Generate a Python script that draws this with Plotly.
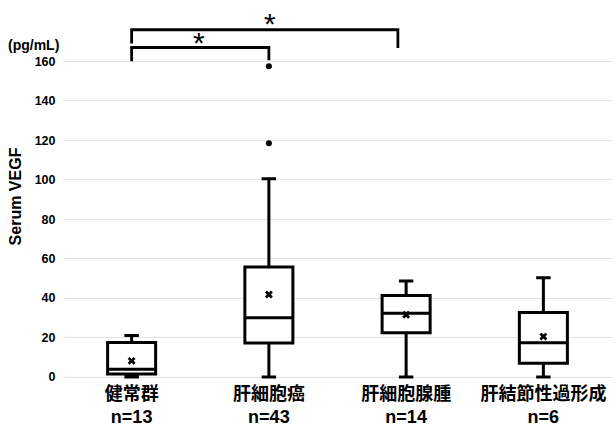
import plotly.graph_objects as go

categories = ["健常群", "肝細胞癌", "肝細胞腺腫", "肝結節性過形成"]
n_counts = [13, 43, 14, 6]
lower_whisker = [0, 0, 0, 0]
q1_vals = [1.5, 17.3, 22.5, 7.0]
median_vals = [4.0, 30.0, 32.3, 17.4]
q3_vals = [17.5, 55.8, 41.3, 32.7]
upper_whisker = [21.0, 100.5, 48.7, 50.3]
mean_vals = [8.2, 41.8, 31.6, 20.5]
outlier_x = [1, 1]
outlier_y = [157.5, 118.5]
ytick_vals = [0, 20, 40, 60, 80, 100, 120, 140, 160]

FONT = "Liberation Sans, Arial, Noto Sans CJK JP, sans-serif"
xpos = list(range(len(categories)))
ticktext = [f"<b>{c}<br>n={n}</b>" for c, n in zip(categories, n_counts)]

fig = go.Figure()
fig.add_trace(go.Box(
    x=xpos, q1=q1_vals, median=median_vals, q3=q3_vals,
    lowerfence=lower_whisker, upperfence=upper_whisker,
    fillcolor="white", line=dict(color="black", width=3),
    whiskerwidth=0.3, boxpoints=False, showlegend=False, hoverinfo="skip",
))
fig.add_trace(go.Scatter(
    x=xpos, y=mean_vals, mode="markers",
    marker=dict(symbol="x", size=7, color="black", line=dict(width=0)),
    showlegend=False,
))
fig.add_trace(go.Scatter(
    x=outlier_x, y=outlier_y, mode="markers",
    marker=dict(symbol="circle", size=6, color="black"),
    showlegend=False,
))

lw = 2.8
# bracket 1: group 0 vs group 1
fig.add_shape(type="path", xref="x", yref="y",
              path="M 0,160 L 0,167 L 1,167 L 1,160.5",
              line=dict(color="black", width=lw))
# bracket 2: group 0 vs group 2
fig.add_shape(type="path", xref="x", yref="y",
              path="M 0,169 L 0,176 L 1.94,176 L 1.94,166.8",
              line=dict(color="black", width=lw))
fig.add_annotation(x=0.49, y=169.5, xref="x", yref="y", text="*", showarrow=False,
                   font=dict(size=30, family=FONT, color="black"), yanchor="middle")
fig.add_annotation(x=1.01, y=179, xref="x", yref="y", text="*", showarrow=False,
                   font=dict(size=30, family=FONT, color="black"), yanchor="middle")
fig.add_annotation(x=-0.053, y=168.5, xref="paper", yref="y", text="<b>(pg/mL)</b>",
                   showarrow=False, font=dict(size=14, family=FONT, color="black"),
                   xanchor="center", yanchor="middle")

fig.update_layout(
    width=616, height=441,
    margin=dict(l=63, r=4, t=12, b=60),
    plot_bgcolor="white", paper_bgcolor="white",
    font=dict(family=FONT, color="black"),
    boxgap=0.5,
    xaxis=dict(tickvals=xpos, ticktext=ticktext, range=[-0.5, 3.5],
               showgrid=False, zeroline=False, showline=False,
               tickfont=dict(size=18, family=FONT, color="black")),
    yaxis=dict(range=[-2, 185], tickvals=ytick_vals,
               ticktext=[f"<b>{v}</b>" for v in ytick_vals],
               showgrid=True, gridcolor="#e3e3e3", gridwidth=1,
               zeroline=False, showline=False,
               ticks="outside", ticklen=4, tickcolor="rgba(0,0,0,0)",
               tickfont=dict(size=12.5, family=FONT, color="black"),
               title=dict(text="<b>Serum VEGF</b>", font=dict(size=16, family=FONT),
                          standoff=9)),
)
fig.write_html("out.html")
